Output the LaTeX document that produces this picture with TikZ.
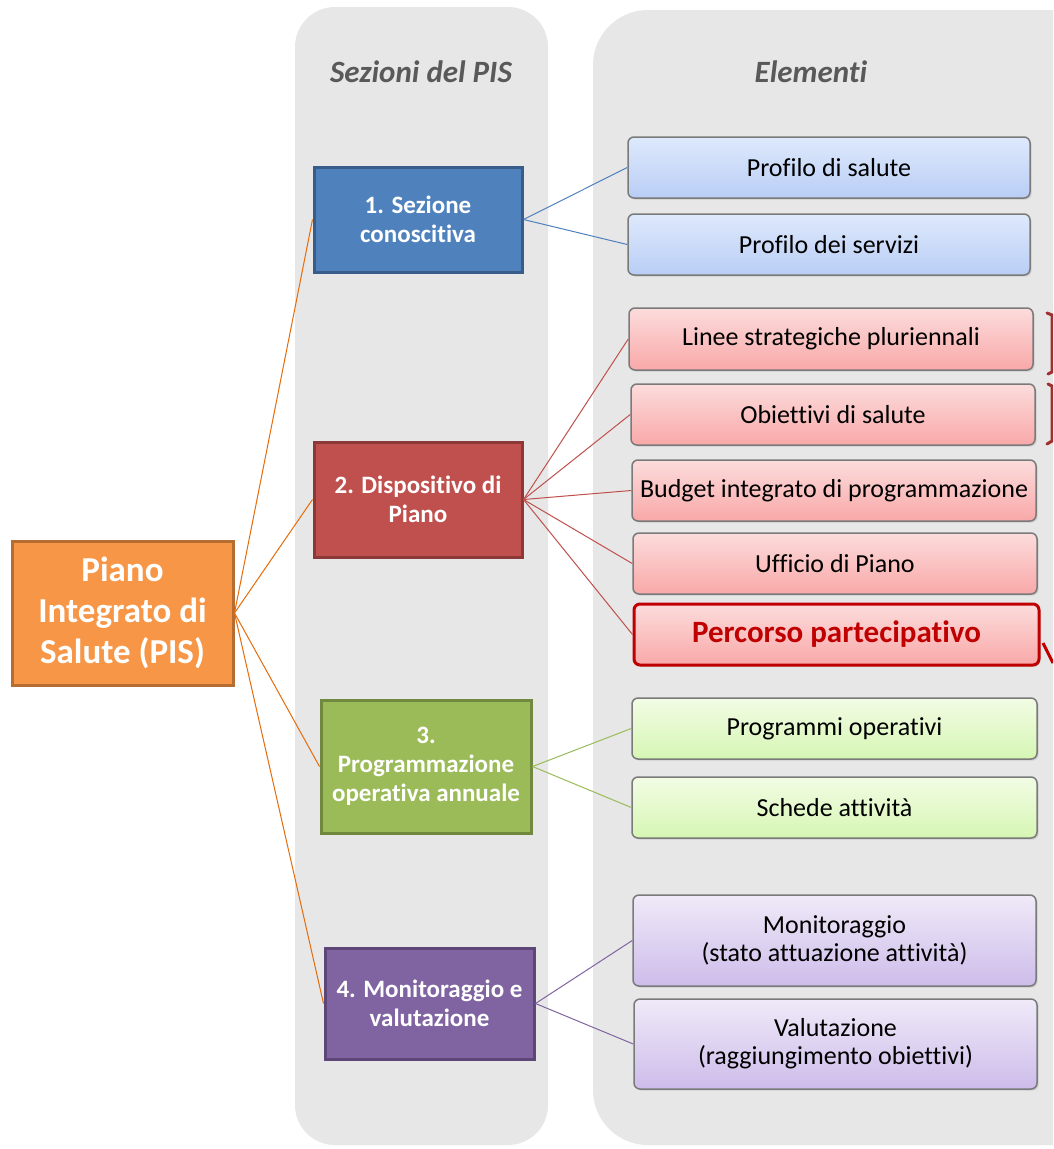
\documentclass[tikz,border=0pt]{standalone}
\usepackage{fontspec}
\setmainfont{Carlito}[Ligatures=NoCommon]
\usetikzlibrary{shadows}
\definecolor{colbg}{HTML}{E7E7E7}
\definecolor{orf}{HTML}{F79646}
\definecolor{ord}{HTML}{B66D31}
\definecolor{orl}{HTML}{E46C0A}
\definecolor{blf}{HTML}{4F81BD}
\definecolor{bld}{HTML}{385D8A}
\definecolor{rdf}{HTML}{C0504D}
\definecolor{rdd}{HTML}{8C3836}
\definecolor{grf}{HTML}{9BBB59}
\definecolor{grd}{HTML}{71893F}
\definecolor{puf}{HTML}{8064A2}
\definecolor{pud}{HTML}{5C4776}
\definecolor{ebord}{HTML}{7A7A7A}
\definecolor{hdr}{HTML}{595959}
\definecolor{dred}{HTML}{C00000}
\definecolor{brk}{HTML}{A03030}
\begin{document}
\begin{tikzpicture}[x=1pt,y=-1pt,
  sect/.style={draw, line width=3pt, text=white, align=center, inner sep=0pt,
    font=\bfseries\fontsize{25}{29}\selectfont},
  elem/.style={draw=ebord, line width=1.5pt, rounded corners=6pt, align=center, inner sep=0pt,
    font=\fontsize{26}{28}\selectfont, drop shadow={opacity=0.25, shadow xshift=1.5pt, shadow yshift=-1.5pt}},
  eblue/.style={elem, top color={rgb,255:red,222;green,233;blue,252}, bottom color={rgb,255:red,185;green,205;blue,245}},
  ered/.style={elem, top color={rgb,255:red,252;green,220;blue,220}, bottom color={rgb,255:red,249;green,168;blue,168}},
  egreen/.style={elem, top color={rgb,255:red,242;green,252;blue,228}, bottom color={rgb,255:red,214;green,246;blue,180}},
  epurple/.style={elem, top color={rgb,255:red,240;green,234;blue,248}, bottom color={rgb,255:red,205;green,188;blue,234}},
  hdrtext/.style={text=hdr, font=\bfseries\itshape\fontsize{31}{34}\selectfont},
  conn/.style={line width=1pt}
]
\useasboundingbox (0,0) rectangle (1053,1149);
\clip (0,0) rectangle (1053,1149);
\fill[white] (0,0) rectangle (1053,1149);
% columns
\fill[colbg, rounded corners=40pt] (295,7) rectangle (548,1145);
\fill[colbg, rounded corners=55pt] (593,10) rectangle (1110,1145);
\node[hdrtext] (h1) at (421,72) {Sezioni del PIS};
\node[hdrtext] (h2) at (811,72) {Elementi};

% root
\node[draw=ord, fill=orf, line width=3pt, text=white, align=center, inner sep=0pt,
  minimum width=221pt, minimum height=144pt,
  font=\bfseries\fontsize{35}{41}\selectfont] (pis) at (122.5,613) {Piano\\Integrato di\\Salute (PIS)};

% sections
\node[sect, draw=bld, fill=blf, minimum width=208pt, minimum height=105pt] (s1) at (418,219.5) {1. Sezione\\conoscitiva};
\node[sect, draw=rdd, fill=rdf, minimum width=208pt, minimum height=115pt] (s2) at (418,499.5) {2. Dispositivo di\\Piano};
\node[sect, draw=grd, fill=grf, minimum width=210pt, minimum height=133pt] (s3) at (426,766.5) {3.\\Programmazione\\operativa annuale};
\node[sect, draw=pud, fill=puf, minimum width=209pt, minimum height=111pt] (s4) at (429.5,1003.5) {4. Monitoraggio e\\valutazione};

% elements
\node[eblue, minimum width=402pt, minimum height=61pt] (e1) at (829,167.5) {Profilo di salute};
\node[eblue, minimum width=402pt, minimum height=61pt] (e2) at (829,244.5) {Profilo dei servizi};
\node[ered, minimum width=404pt, minimum height=62pt] (r1) at (831,339) {Linee strategiche pluriennali};
\node[ered, minimum width=404pt, minimum height=61pt] (r2) at (833,414.5) {Obiettivi di salute};
\node[ered, minimum width=404pt, minimum height=61pt] (r3) at (834,490.5) {Budget integrato di programmazione};
\node[ered, minimum width=404pt, minimum height=61pt] (r4) at (835,563.5) {Ufficio di Piano};
\node[ered, draw=dred, line width=3pt, text=dred, minimum width=405pt, minimum height=61pt,
  font=\bfseries\fontsize{31}{34}\selectfont] (r5) at (836.5,634.5) {Percorso partecipativo};
\node[egreen, minimum width=405pt, minimum height=61pt] (g1) at (834.5,728.5) {Programmi operativi};
\node[egreen, minimum width=405pt, minimum height=61pt] (g2) at (834.5,807.5) {Schede attività};
\node[epurple, minimum width=403pt, minimum height=91pt] (p1) at (834.5,940.5) {Monitoraggio\\(stato attuazione attività)};
\node[epurple, minimum width=403pt, minimum height=90pt] (p2) at (835.5,1044) {Valutazione\\(raggiungimento obiettivi)};

% connectors
\foreach \s in {s1,s2,s3,s4} \draw[conn, orl] (pis.east) -- (\s.west);
\foreach \e in {e1,e2} \draw[conn, blf] (s1.east) -- (\e.west);
\foreach \e in {r1,r2,r3,r4,r5} \draw[conn, rdf] (s2.east) -- (\e.west);
\foreach \e in {g1,g2} \draw[conn, grf] (s3.east) -- (\e.west);
\foreach \e in {p1,p2} \draw[conn, puf] (s4.east) -- (\e.west);

% cut-off bracket and mark on the right
\draw[brk, line width=3pt, line cap=round] (1047,313) -- (1052,315) -- (1052,372) -- (1048,374);
\draw[brk, line width=3pt, line cap=round] (1048,384) -- (1052,386) -- (1052,441) -- (1047,444);
\draw[dred, line width=3pt] (1043,643) -- (1053,663);
\end{tikzpicture}
\end{document}
